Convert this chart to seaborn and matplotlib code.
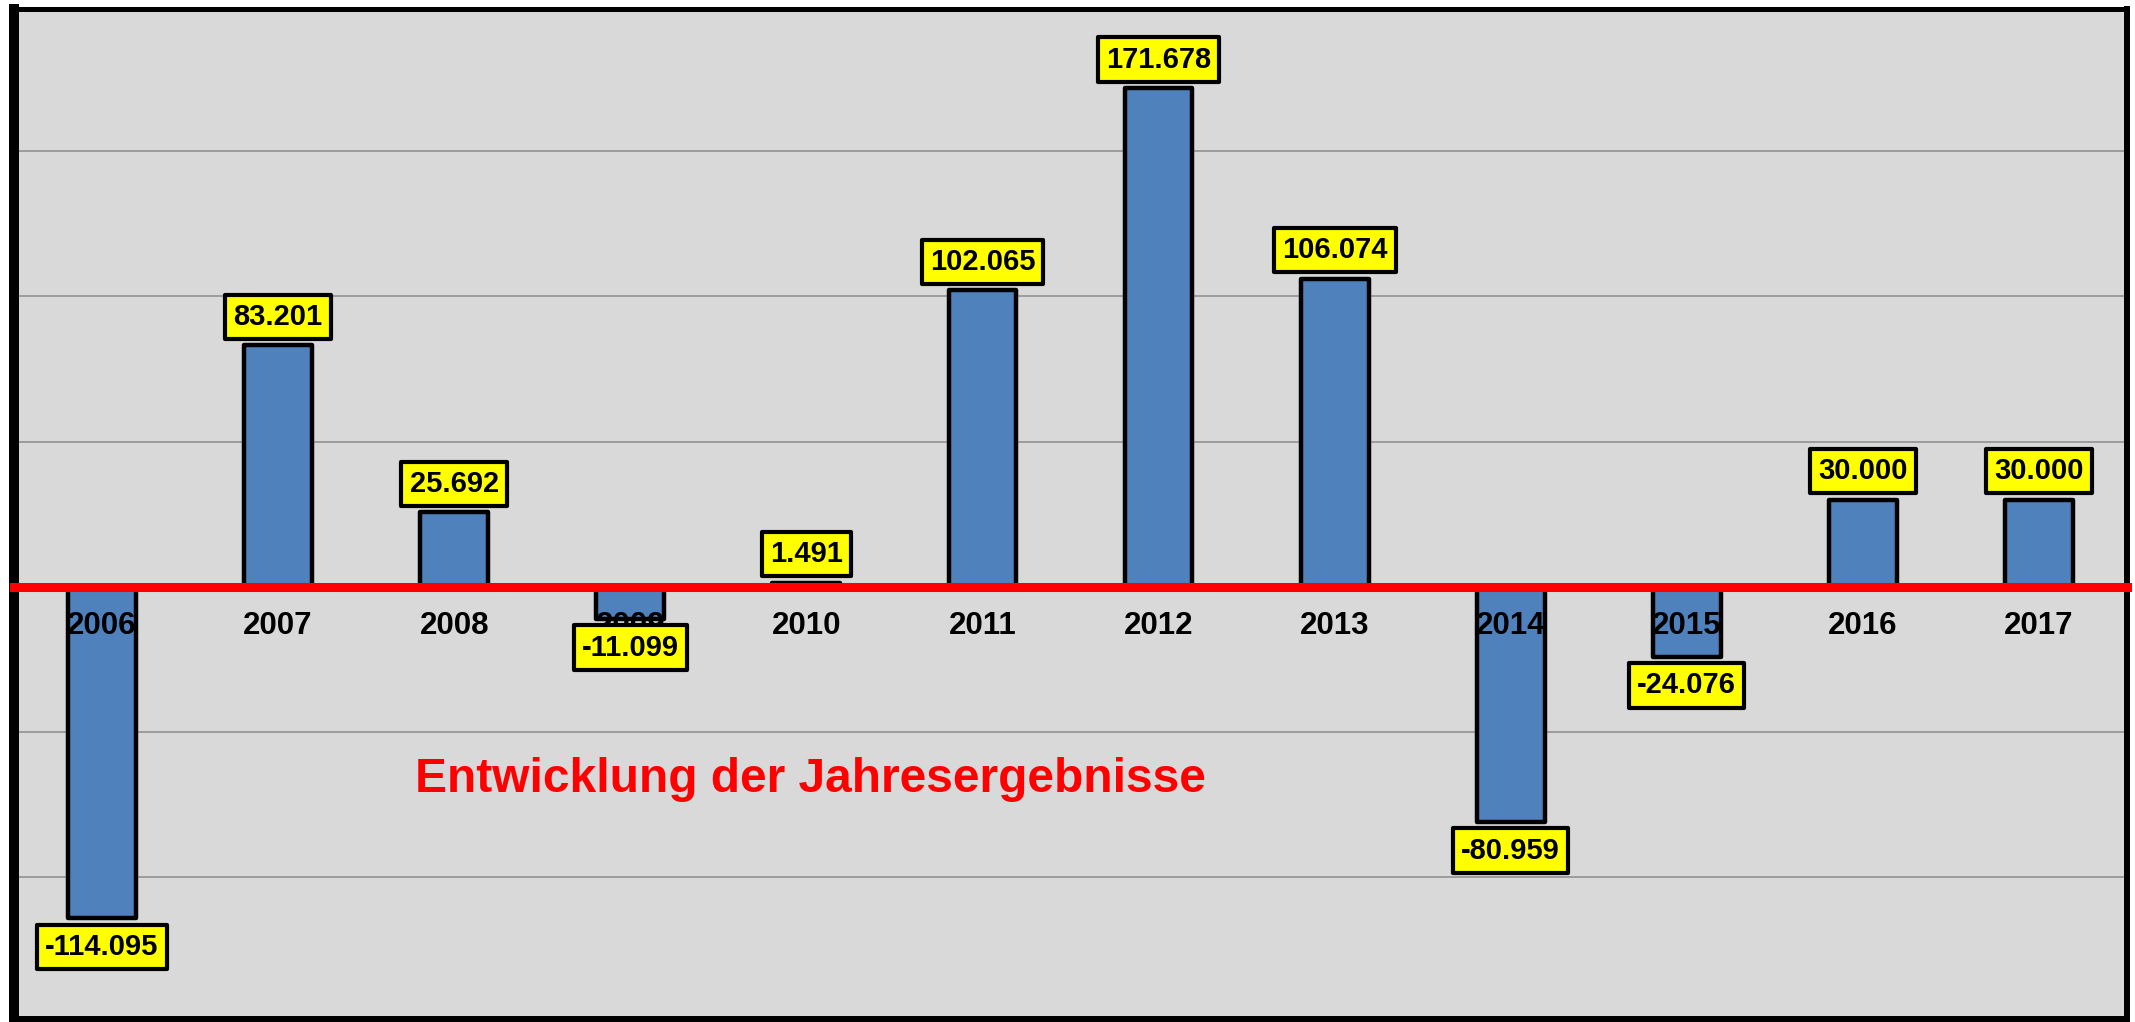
import numpy as np
import matplotlib
matplotlib.use("Agg")
import matplotlib.pyplot as plt
import seaborn as sns

# Jahresergebnisse (in Tausend)
jahre = ['2006', '2007', '2008', '2009', '2010', '2011',
         '2012', '2013', '2014', '2015', '2016', '2017']
ergebnisse = [-114.095, 83.201, 25.692, -11.099, 1.491, 102.065,
              171.678, 106.074, -80.959, -24.076, 30.000, 30.000]
beschriftung = ['-114.095', '83.201', '25.692', '-11.099', '1.491', '102.065',
                '171.678', '106.074', '-80.959', '-24.076', '30.000', '30.000']
gitter = [-100, -50, 50, 100, 150]
titel = 'Entwicklung der Jahresergebnisse'

sns.set_style('white')
plt.rcParams['font.family'] = ['Liberation Sans', 'DejaVu Sans']
plt.rcParams['font.weight'] = 'bold'

fig = plt.figure(figsize=(21.35, 10.22), dpi=100)
ax = fig.add_axes([14 / 2135, 3 / 1022, 2113 / 2135, 1010 / 1022])
ax.set_facecolor('#D9D9D9')

for g in gitter:
    ax.axhline(g, color='#8C8C8C', linewidth=1.1, zorder=0.5)

sns.barplot(x=jahre, y=ergebnisse, color='#4F81BD', saturation=1,
            width=0.385, edgecolor='black', linewidth=3.2, errorbar=None, ax=ax)
for p in ax.patches:
    p.set_joinstyle('round')
    p.set_zorder(1)

ax.set_xlim(-0.5, 11.5)
ax.set_ylim(-148.7, 198.9)

# Wertebeschriftungen in gelben Kästchen
for i, (v, txt) in enumerate(zip(ergebnisse, beschriftung)):
    off = 20.5 if v >= 0 else -20.5
    ax.annotate(txt, xy=(i, v), xytext=(0, off), textcoords='offset points',
                ha='center', va='center', fontsize=21, fontweight='bold',
                color='black', zorder=5,
                bbox=dict(boxstyle='square,pad=0.28', facecolor='#FFFF00',
                          edgecolor='black', linewidth=3, joinstyle='round'))

# Achsen
ax.set_xlabel('')
ax.set_ylabel('')
ax.set_yticks([])
ax.set_xticks(range(len(jahre)))
ax.set_xticklabels(jahre)
ax.set_xticks(np.arange(-0.5, len(jahre), 1), minor=True)
ax.tick_params(axis='x', which='major', length=0, pad=17, labelsize=22.5,
               labelcolor='black')
ax.tick_params(axis='x', which='minor', length=6.5, width=6, color='red',
               direction='out')
ax.xaxis.set_zorder(3)

ax.spines['bottom'].set_position(('data', 0))
ax.spines['bottom'].set_color('red')
ax.spines['bottom'].set_linewidth(6.5)
ax.spines['bottom'].set_zorder(3.5)
ax.spines['left'].set_color('black')
ax.spines['left'].set_linewidth(7.2)
ax.spines['top'].set_color('black')
ax.spines['top'].set_linewidth(3.6)
ax.spines['right'].set_color('black')
ax.spines['right'].set_linewidth(4.3)
ax.plot([0, 1], [0, 0], transform=ax.transAxes, color='black',
        linewidth=4.3, clip_on=False, zorder=6)

ax.text(0.377, 0.225, titel, transform=ax.transAxes, ha='center',
        va='baseline', fontsize=34.5, fontweight='bold', color='red')

fig.savefig('out.png', dpi=100, facecolor='white')
